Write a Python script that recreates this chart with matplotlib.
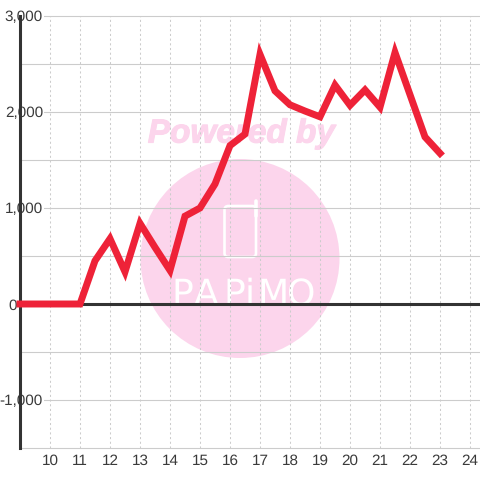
import matplotlib
matplotlib.use("Agg")
import matplotlib.pyplot as plt
import matplotlib.patheffects as pe
from matplotlib.lines import Line2D
from matplotlib.patches import Circle, FancyBboxPatch

hours = [9, 9.5, 10, 10.5, 11, 11.5, 12, 12.5, 13, 13.5, 14, 14.5, 15, 15.5, 16, 16.5,
         17, 17.5, 18, 18.5, 19, 19.5, 20, 20.5, 21, 21.5, 22, 22.5, 23]
values = [0, 0, 0, 0, 0, 450, 680, 335, 840, 590, 350, 915, 1000, 1250, 1650, 1770,
          2600, 2220, 2075, 2010, 1950, 2280, 2070, 2230, 2050, 2620, 2180, 1740, 1570]
x_ticks = list(range(10, 25))
y_ticks = [-1000, 0, 1000, 2000, 3000]
y_minor = [-1500, -500, 500, 1500, 2500]
y_labels = ["-1,000", "0", "1,000", "2,000", "3,000"]

plt.rcParams["font.family"] = ["Liberation Sans", "DejaVu Sans"]
plt.rcParams["text.hinting"] = "none"
fig = plt.figure(figsize=(4.8, 4.8), dpi=100)
ax = fig.add_axes([20 / 480, 32 / 480, 460 / 480, 432 / 480], zorder=1)
ax.set_xlim(9, 24.333)
ax.set_ylim(-1500, 3000)
ax.patch.set_alpha(0)

PINK = "#fcd5ec"
def fx(p): return p / 480
def fy(p): return 1 - p / 480
fig.patches.append(Circle((fx(240), fy(258.5)), fx(99.5), transform=fig.transFigure, fc=PINK, ec="none", zorder=-2))
fig.patches.append(FancyBboxPatch((fx(224.5), fy(257)), fx(31.5), fy(206) - fy(257),
                                  boxstyle="round,pad=0,rounding_size=0.008",
                                  transform=fig.transFigure, fc="none", ec="white", lw=1.9, zorder=-1))
fig.add_artist(Line2D([fx(255.5), fx(255.5)], [fy(201), fy(216)], color="white", lw=2.6,
                      solid_capstyle="round", transform=fig.transFigure, zorder=-1))
fig.text(fx(241.5), fy(134), "Powered by", color=PINK, fontsize=24, fontweight="bold", fontstyle="italic",
         ha="center", va="center", zorder=-1,
         path_effects=[pe.withStroke(linewidth=0.8, foreground=PINK)])
for px, letter in zip([182, 206, 234, 250, 273, 301], "PAPiMO"):
    fig.text(fx(px), fy(305), letter, color="white", fontsize=26, family="Liberation Sans Narrow",
             ha="center", va="baseline", zorder=-1)

for v in y_ticks + y_minor:
    ax.axhline(v, color="#cccccc", lw=0.8, zorder=1, clip_on=False)
for v in x_ticks:
    ax.axvline(v, color="#cccccc", lw=0.75, ls=(0, (2, 2.5)), zorder=1)
ax.axhline(0, color="#333333", lw=2.2, zorder=2)
ax.plot(hours, values, color="#ee2238", lw=5.0, solid_joinstyle="miter", solid_capstyle="projecting",
        clip_on=False, zorder=3)

for s in ["top", "right", "bottom"]:
    ax.spines[s].set_visible(False)
ax.spines["left"].set_color("#333333")
ax.spines["left"].set_linewidth(2.2)
ax.spines["left"].set_zorder(2)
ax.set_xticks(x_ticks)
ax.set_yticks(y_ticks)
ax.set_yticklabels(y_labels)
ax.tick_params(length=0, labelsize=11, labelcolor="#3a3a3a")
ax.tick_params(axis="x", pad=4.5)
ax.tick_params(axis="y", pad=-16.5)
ax.yaxis.get_major_ticks()[y_ticks.index(0)].set_pad(2.5)
for v, t in zip(y_ticks, ax.get_yticklabels()):
    t.set_ha("right")
    t.set_zorder(5)
    t.set_clip_on(False)
    if v != 0:
        t.set_bbox(dict(fc="white", ec="none", pad=0.5))
fig.savefig("out.png", dpi=100)
